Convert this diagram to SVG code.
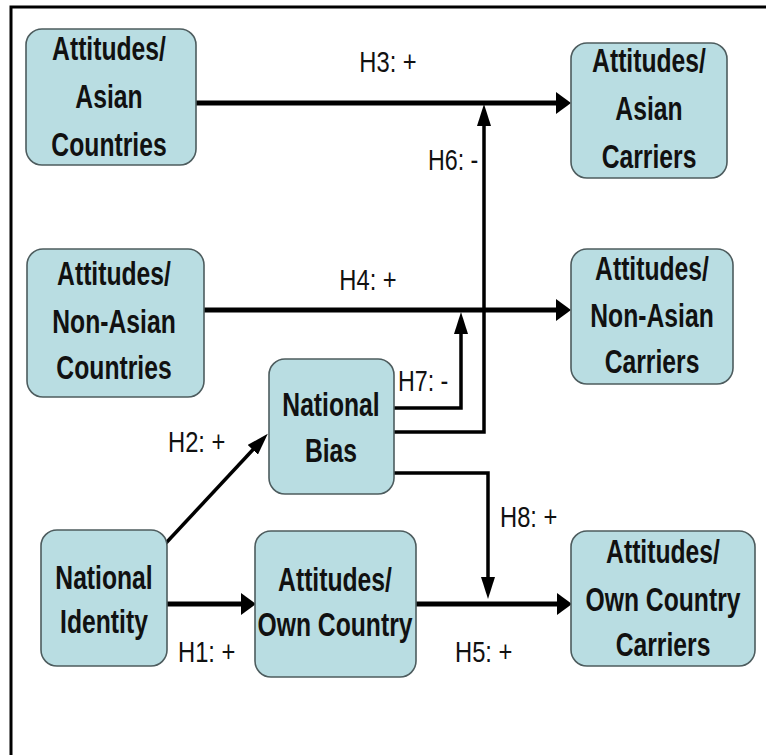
<svg xmlns="http://www.w3.org/2000/svg" width="766" height="755" viewBox="0 0 766 755">
<defs>
<style>
.box{fill:#b9dde2;stroke:#4d5c5e;stroke-width:1.6}
.bt{font-family:"Liberation Sans",Arial,sans-serif;font-weight:bold;font-size:26px;fill:#111;text-anchor:middle}
.lb{font-family:"Liberation Sans",Arial,sans-serif;font-size:25px;fill:#111}
.thick{fill:none;stroke:#000;stroke-width:5}
.thin{fill:none;stroke:#000;stroke-width:3.5}
</style>
<marker id="ahk" markerUnits="userSpaceOnUse" viewBox="0 0 15 22" markerWidth="15" markerHeight="22" refX="7" refY="11" orient="auto"><path d="M0,0 L15,11 L0,22 Z" fill="#000"/></marker>
<marker id="ahn" markerUnits="userSpaceOnUse" viewBox="0 0 22 14" markerWidth="22" markerHeight="14" refX="12" refY="7" orient="auto"><path d="M0,0 L22,7 L0,14 Z" fill="#000"/></marker>
</defs>
<rect width="766" height="755" fill="#fff"/>
<path d="M11,755 V7 H766" fill="none" stroke="#000" stroke-width="3"/>
<g id="connectors">
<path class="thick" d="M196,103 H563" marker-end="url(#ahk)"/>
<path class="thick" d="M204,310 H563" marker-end="url(#ahk)"/>
<path class="thick" d="M167,604 H248" marker-end="url(#ahk)"/>
<path class="thick" d="M416,604 H564" marker-end="url(#ahk)"/>
<path class="thin" d="M394,432 H484 V114" marker-end="url(#ahn)"/>
<path class="thin" d="M394,408 H461 V322" marker-end="url(#ahn)"/>
<path class="thin" d="M394,473 H488 V589" marker-end="url(#ahn)"/>
<path class="thin" d="M166,543 L261,441" marker-end="url(#ahn)"/>
<text class="lb" transform="translate(388,72) scale(0.95,1.2)" text-anchor="middle">H3: +</text>
<text class="lb" transform="translate(368,290) scale(0.95,1.2)" text-anchor="middle">H4: +</text>
<text class="lb" transform="translate(428,170) scale(0.93,1.2)">H6: -</text>
<text class="lb" transform="translate(398,391) scale(0.93,1.2)">H7: -</text>
<text class="lb" transform="translate(168,452) scale(0.95,1.2)">H2: +</text>
<text class="lb" transform="translate(500,527) scale(0.95,1.2)">H8: +</text>
<text class="lb" transform="translate(178,662) scale(0.95,1.2)">H1: +</text>
<text class="lb" transform="translate(455,662) scale(0.95,1.2)">H5: +</text>
</g>
<g id="asian-countries"><rect class="box" x="26" y="29" width="170" height="136" rx="16"/><text class="bt" transform="translate(109,60) scale(0.95,1.25)">Attitudes/</text><text class="bt" transform="translate(109,108) scale(0.95,1.25)">Asian</text><text class="bt" transform="translate(109,156) scale(0.95,1.25)">Countries</text></g>
<g id="asian-carriers"><rect class="box" x="571" y="43" width="156" height="135" rx="16"/><text class="bt" transform="translate(649,72) scale(0.95,1.25)">Attitudes/</text><text class="bt" transform="translate(649,120) scale(0.95,1.25)">Asian</text><text class="bt" transform="translate(649,168) scale(0.95,1.25)">Carriers</text></g>
<g id="nonasian-countries"><rect class="box" x="27" y="249" width="177" height="148" rx="16"/><text class="bt" transform="translate(114,285) scale(0.95,1.25)">Attitudes/</text><text class="bt" transform="translate(114,333) scale(0.95,1.25)">Non-Asian</text><text class="bt" transform="translate(114,379) scale(0.95,1.25)">Countries</text></g>
<g id="nonasian-carriers"><rect class="box" x="571" y="249" width="162" height="135" rx="16"/><text class="bt" transform="translate(652,280) scale(0.95,1.25)">Attitudes/</text><text class="bt" transform="translate(652,327) scale(0.95,1.25)">Non-Asian</text><text class="bt" transform="translate(652,373) scale(0.95,1.25)">Carriers</text></g>
<g id="national-bias"><rect class="box" x="269" y="359" width="125" height="135" rx="16"/><text class="bt" transform="translate(331,416) scale(0.95,1.25)">National</text><text class="bt" transform="translate(331,462) scale(0.95,1.25)">Bias</text></g>
<g id="national-identity"><rect class="box" x="41" y="530" width="126" height="136" rx="16"/><text class="bt" transform="translate(104,589) scale(0.95,1.25)">National</text><text class="bt" transform="translate(104,633) scale(0.95,1.25)">Identity</text></g>
<g id="own-country"><rect class="box" x="255" y="531" width="161" height="146" rx="16"/><text class="bt" transform="translate(335,591) scale(0.95,1.25)">Attitudes/</text><text class="bt" transform="translate(335,636) scale(0.95,1.25)">Own Country</text></g>
<g id="own-country-carriers"><rect class="box" x="571" y="531" width="184" height="135" rx="16"/><text class="bt" transform="translate(663,563) scale(0.95,1.25)">Attitudes/</text><text class="bt" transform="translate(663,611) scale(0.95,1.25)">Own Country</text><text class="bt" transform="translate(663,656) scale(0.95,1.25)">Carriers</text></g>
</svg>
